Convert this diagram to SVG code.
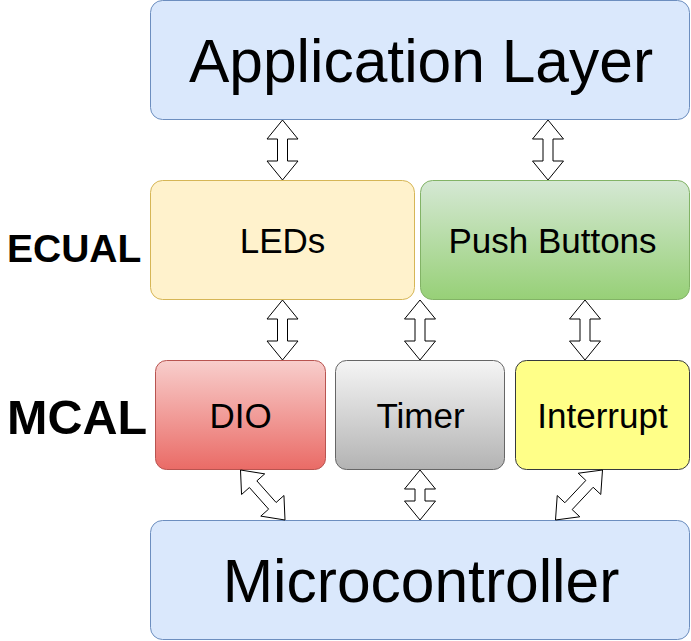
<svg xmlns="http://www.w3.org/2000/svg" width="691" height="641" viewBox="0 0 691 641">
<defs>
<linearGradient id="gGreen" x1="0" y1="0" x2="0" y2="1"><stop offset="0" stop-color="#d5e8d4"/><stop offset="1" stop-color="#97d077"/></linearGradient>
<linearGradient id="gRed" x1="0" y1="0" x2="0" y2="1"><stop offset="0" stop-color="#f8cecc"/><stop offset="1" stop-color="#ea6b66"/></linearGradient>
<linearGradient id="gGray" x1="0" y1="0" x2="0" y2="1"><stop offset="0" stop-color="#f5f5f5"/><stop offset="1" stop-color="#b3b3b3"/></linearGradient>
</defs>
<style>
.lbl{font-family:"Liberation Sans",Arial,Helvetica,sans-serif;fill:#000;text-anchor:middle}
.big{font-size:60.5px}
.mid{font-size:35px}
.side{font-weight:bold;text-anchor:start}
.arrow{fill:#fff;stroke:#000;stroke-width:1;stroke-linejoin:miter}
</style>
<rect width="691" height="641" fill="#fff"/>
<g id="application-layer">
<rect x="150.5" y="0.5" width="539" height="119" rx="12" fill="#dae8fc" stroke="#6c8ebf"/>
<text class="lbl big" x="421" y="81.5">Application Layer</text>
</g>
<g id="leds">
<rect x="150.5" y="180.5" width="264" height="119" rx="12" fill="#fff2cc" stroke="#d6b656"/>
<text class="lbl mid" x="282.5" y="253">LEDs</text>
</g>
<g id="push-buttons">
<rect x="420.5" y="180.5" width="269" height="119" rx="12" fill="url(#gGreen)" stroke="#82b366"/>
<text class="lbl mid" x="552.5" y="253">Push Buttons</text>
</g>
<g id="dio">
<rect x="155.5" y="360.5" width="170" height="109" rx="11" fill="url(#gRed)" stroke="#b85450"/>
<text class="lbl mid" x="240.5" y="427.5">DIO</text>
</g>
<g id="timer">
<rect x="335.5" y="360.5" width="169" height="109" rx="11" fill="url(#gGray)" stroke="#666666"/>
<text class="lbl mid" x="420.5" y="427.5">Timer</text>
</g>
<g id="interrupt">
<rect x="515.5" y="360.5" width="174" height="109" rx="11" fill="#ffff88" stroke="#36393d"/>
<text class="lbl mid" x="602.5" y="427.5">Interrupt</text>
</g>
<g id="microcontroller">
<rect x="150.5" y="520.5" width="539" height="119" rx="12" fill="#dae8fc" stroke="#6c8ebf"/>
<text class="lbl big" x="421" y="601.5">Microcontroller</text>
</g>
<g id="ecual-label">
<text class="lbl side" x="7" y="262" font-size="39">ECUAL</text>
</g>
<g id="mcal-label">
<text class="lbl side" x="7" y="434" font-size="48.5">MCAL</text>
</g>
<g id="connectors">
<polygon class="arrow" points="282.5,120 298,139 287.5,139 287.5,161 298,161 282.5,180 267,161 277.5,161 277.5,139 267,139"/>
<polygon class="arrow" points="548,120 563.5,139 553,139 553,161 563.5,161 548,180 532.5,161 543,161 543,139 532.5,139"/>
<polygon class="arrow" points="282.5,300 298,319 287.5,319 287.5,341 298,341 282.5,360 267,341 277.5,341 277.5,319 267,319"/>
<polygon class="arrow" points="420,300 435.5,319 425,319 425,341 435.5,341 420,360 404.5,341 415,341 415,319 404.5,319"/>
<polygon class="arrow" points="585,300 600.5,319 590,319 590,341 600.5,341 585,360 569.5,341 580,341 580,319 569.5,319"/>
<polygon class="arrow" points="420,470 435.5,489 425,489 425,501 435.5,501 420,520 404.5,501 415,501 415,489 404.5,489"/>
<polygon class="arrow" points="240.5,470 241.55,494.5 249.4,487.52 268.64,509.13 260.79,516.12 285,520 283.95,495.5 276.11,502.49 256.87,480.87 264.71,473.88"/>
<polygon class="arrow" points="602.5,470 578.2,473.22 585.85,480.42 564.87,502.74 557.22,495.54 555.5,520 579.8,516.78 572.15,509.58 593.13,487.26 600.78,494.46"/>
</g>
</svg>
